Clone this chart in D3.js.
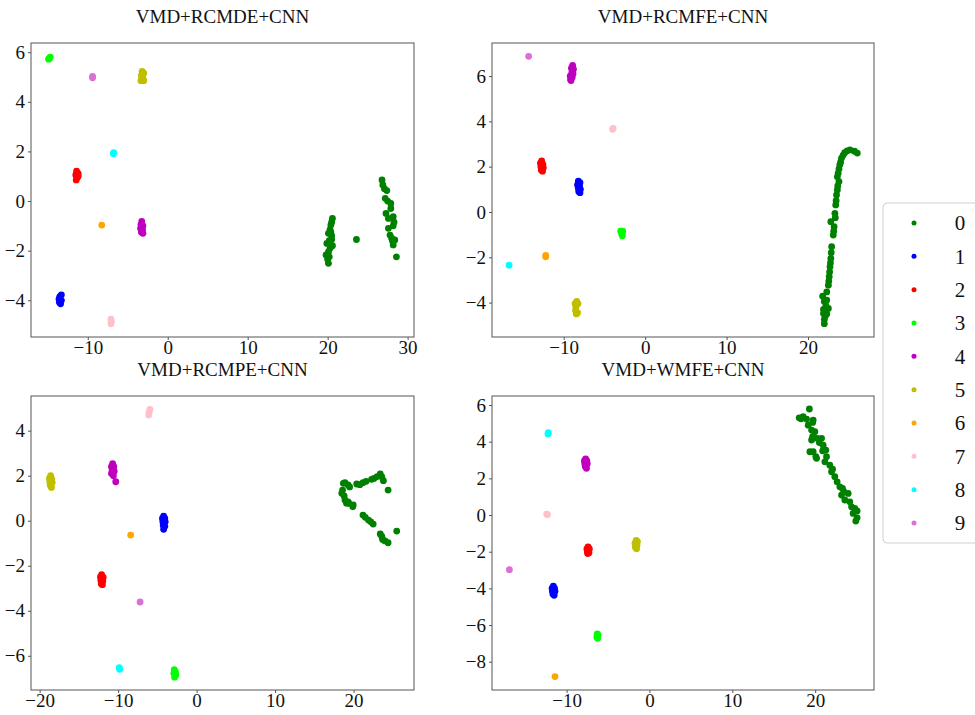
<!DOCTYPE html>
<html>
<head>
<meta charset="utf-8">
<script src="https://cdn.jsdelivr.net/npm/d3@7"></script>
<style>
  body { margin: 0; background: #fff; }
  svg text { font-family: "Liberation Serif", "Times New Roman", serif; fill: #111; }
  .axis path.domain { display: none; }
  .axis line { stroke: #555; }
</style>
</head>
<body>
<svg id="chart" width="975" height="715"></svg>
<script>
// class labels and colours (matplotlib named colours)
var classes = ["0", "1", "2", "3", "4", "5", "6", "7", "8", "9"];
var classColors = ["green", "blue", "red", "lime", "m", "y", "orange", "pink", "cyan", "orchid"];
var colorHex = {
  green: "#008000", blue: "#0000ff", red: "#ff0000", lime: "#00ff00", m: "#bf00bf",
  y: "#bfbf00", orange: "#ffa500", pink: "#ffc0cb", cyan: "#00ffff", orchid: "#da70d6"
};

var titles = ["VMD+RCMDE+CNN", "VMD+RCMFE+CNN", "VMD+RCMPE+CNN", "VMD+WMFE+CNN"];

// tick values per panel
var xTicks = [[-10, 0, 10, 20, 30], [-10, 0, 10, 20], [-20, -10, 0, 10, 20], [-10, 0, 10, 20]];
var yTicks = [[-4, -2, 0, 2, 4, 6], [-4, -2, 0, 2, 4, 6], [-6, -4, -2, 0, 2, 4], [-8, -6, -4, -2, 0, 2, 4, 6]];

// axis limits
var xLimits = [[-17.1, 30.8], [-18.8, 28.1], [-21.1, 27.7], [-19.0, 27.1]];
var yLimits = [[-5.48, 6.37], [-5.52, 7.46], [-7.52, 5.54], [-9.54, 6.49]];

// points: [class, x, y]
var rcmdePoints = [
  [0,20.6,-0.7],[0,20.5,-0.85],[0,20.4,-0.97],[0,20.3,-1.15],[0,20.1,-1.3],[0,20.4,-1.25],[0,20.5,-1.4],[0,20.5,-1.55],
  [0,19.9,-1.71],[0,20.2,-1.6],[0,20.3,-1.9],[0,20.6,-1.8],[0,20.1,-2.05],[0,19.8,-2.17],[0,20.2,-2.25],[0,20.0,-2.35],[0,20.1,-2.51],
  [0,23.6,-1.55],
  [0,26.8,0.85],[0,26.9,0.65],[0,27.1,0.5],[0,27.4,0.42],[0,27.2,0.11],[0,27.5,0.0],[0,27.9,-0.1],[0,27.9,-0.3],
  [0,27.3,-0.5],[0,27.6,-0.7],[0,28.2,-0.63],[0,28.3,-0.85],[0,28.2,-1.0],[0,27.6,-1.1],[0,27.8,-1.37],[0,28.0,-1.5],
  [0,28.4,-1.57],[0,28.2,-1.77],[0,28.1,-1.6],[0,28.6,-2.25],
  [1,-13.3,-3.78],[1,-13.5,-3.85],[1,-13.6,-3.95],[1,-13.55,-4.08],[1,-13.4,-4.14],[1,-13.3,-4.0],[1,-13.5,-3.95],
  [2,-11.4,1.2],[2,-11.2,1.1],[2,-11.5,1.05],[2,-11.3,0.95],[2,-11.45,0.85],[2,-11.2,1.0],
  [3,-14.8,5.75],[3,-14.7,5.8],[3,-14.9,5.72],
  [4,-3.25,-0.82],[4,-3.35,-0.95],[4,-3.1,-1.0],[4,-3.4,-1.1],[4,-3.15,-1.15],[4,-3.3,-1.25],[4,-3.1,-1.3],[4,-3.3,-1.05],
  [5,-3.2,5.23],[5,-3.0,5.15],[5,-3.3,5.05],[5,-3.1,4.95],[5,-3.35,4.85],[5,-3.0,4.85],[5,-3.2,5.1],
  [6,-8.25,-0.97],
  [7,-7.1,-4.76],[7,-7.05,-4.85],[7,-7.1,-4.95],
  [8,-6.8,1.91],[8,-6.75,1.95],
  [9,-9.4,4.97],[9,-9.4,5.02]
];

var rcmfePoints = [
  [0,26.05,2.6],[0,25.7,2.68],[0,25.15,2.74],[0,24.8,2.7],[0,24.5,2.62],[0,24.3,2.5],[0,24.1,2.37],[0,24.0,2.2],
  [0,23.9,2.08],[0,23.8,1.9],[0,23.7,1.71],[0,23.6,1.55],[0,23.8,1.34],[0,23.65,1.15],[0,23.6,0.97],[0,23.5,0.75],
  [0,23.45,0.5],[0,23.4,0.31],[0,23.3,-0.06],[0,23.35,-0.25],[0,22.8,-0.43],[0,23.2,-0.65],[0,23.15,-0.85],[0,23.1,-1.02],
  [0,22.9,-1.53],[0,22.85,-1.8],[0,22.8,-2.05],[0,22.75,-2.25],[0,22.7,-2.42],[0,22.65,-2.65],[0,22.6,-2.86],[0,22.55,-3.05],
  [0,22.5,-3.23],[0,22.3,-3.53],[0,21.8,-3.72],[0,22.3,-3.89],[0,22.0,-3.95],[0,22.2,-4.14],[0,22.5,-4.26],[0,21.9,-4.3],
  [0,21.9,-4.48],[0,22.3,-4.5],[0,22.1,-4.6],[0,22.0,-4.75],[0,22.0,-4.93],
  [1,-8.2,1.36],[1,-8.0,1.3],[1,-8.3,1.2],[1,-8.05,1.15],[1,-8.2,1.05],[1,-7.95,1.0],[1,-8.15,0.9],[1,-8.0,0.85],
  [2,-12.7,2.25],[2,-12.85,2.15],[2,-12.55,2.1],[2,-12.8,2.0],[2,-12.5,1.95],[2,-12.75,1.85],[2,-12.6,1.8],
  [3,-3.0,-0.85],[3,-2.75,-0.85],[3,-2.9,-0.95],[3,-2.8,-1.05],
  [4,-8.9,6.47],[4,-9.05,6.35],[4,-8.8,6.3],[4,-9.0,6.15],[4,-8.85,6.1],[4,-9.2,6.0],[4,-8.95,5.95],[4,-9.15,5.85],[4,-9.1,5.8],
  [5,-8.4,-3.95],[5,-8.6,-4.05],[5,-8.25,-4.05],[5,-8.5,-4.2],[5,-8.55,-4.35],[5,-8.3,-4.45],[5,-8.45,-4.5],
  [6,-12.2,-1.98],[6,-12.2,-1.92],
  [7,-3.93,3.69],[7,-4.0,3.65],
  [8,-16.7,-2.35],
  [9,-14.3,6.87]
];

var rcmpePoints = [
  [0,18.9,1.69],[0,18.7,1.66],[0,19.3,1.59],[0,19.5,1.5],[0,18.6,1.36],[0,18.5,1.22],[0,18.8,1.1],[0,18.9,0.92],
  [0,19.3,0.84],[0,19.4,0.77],[0,19.1,0.78],[0,19.95,0.7],[0,19.9,0.62],[0,20.4,1.63],[0,20.8,1.6],[0,21.2,1.69],
  [0,21.6,1.75],[0,22.3,1.84],[0,22.6,1.88],[0,23.0,1.96],[0,23.4,2.08],[0,23.6,1.95],[0,23.8,1.78],[0,24.4,1.36],
  [0,21.2,0.25],[0,21.5,0.15],[0,21.9,0.03],[0,22.2,-0.05],[0,22.5,-0.15],[0,25.5,-0.46],
  [0,23.4,-0.59],[0,23.6,-0.7],[0,23.7,-0.83],[0,24.0,-0.9],[0,24.4,-0.98],
  [1,-4.2,0.2],[1,-4.35,0.1],[1,-4.05,0.1],[1,-4.3,-0.05],[1,-4.0,-0.05],[1,-4.25,-0.2],[1,-4.05,-0.25],[1,-4.2,-0.38],
  [2,-12.1,-2.4],[2,-12.25,-2.5],[2,-11.9,-2.52],[2,-12.2,-2.65],[2,-11.95,-2.68],[2,-12.15,-2.8],[2,-12.0,-2.84],
  [3,-2.85,-6.62],[3,-2.7,-6.7],[3,-2.9,-6.78],[3,-2.65,-6.85],[3,-2.8,-6.95],
  [4,-10.7,2.53],[4,-10.85,2.4],[4,-10.55,2.4],[4,-10.75,2.25],[4,-10.5,2.2],[4,-10.85,2.1],[4,-10.6,2.0],[4,-10.3,1.73],
  [5,-18.6,2.0],[5,-18.75,1.88],[5,-18.45,1.85],[5,-18.7,1.72],[5,-18.4,1.7],[5,-18.65,1.58],[5,-18.5,1.48],
  [6,-8.4,-0.64],
  [7,-5.95,4.94],[7,-6.05,4.82],[7,-6.1,4.7],
  [8,-9.86,-6.53],[8,-9.8,-6.6],
  [9,-7.2,-3.61]
];

var wmfePoints = [
  [0,19.3,5.78],[0,18.07,5.3],[0,18.55,5.36],[0,18.96,5.23],[0,18.3,5.25],[0,19.76,5.18],[0,19.7,5.05],[0,19.16,4.9],
  [0,19.57,4.63],[0,19.96,4.54],[0,19.69,4.27],[0,20.24,4.18],[0,19.57,4.09],[0,20.77,4.18],[0,20.5,3.95],[0,19.76,3.45],
  [0,19.36,3.45],[0,20.08,3.18],[0,20.17,3.09],[0,20.96,3.81],[0,21.29,3.54],[0,21.37,3.18],[0,21.17,2.9],[0,21.77,2.72],
  [0,21.98,2.36],[0,22.37,2.09],[0,22.65,1.81],[0,22.98,1.54],[0,23.46,1.27],[0,23.18,1.09],[0,23.98,1.18],[0,23.58,0.82],
  [0,24.18,0.72],[0,24.39,0.45],[0,24.78,0.36],[0,24.58,0.09],[0,25.06,-0.15],[0,25.06,0.22],[0,24.9,-0.33],[0,23.3,1.45],
  [0,22.1,2.5],[0,20.9,3.5],
  [1,-11.6,-3.88],[1,-11.75,-4.0],[1,-11.45,-4.0],[1,-11.7,-4.15],[1,-11.4,-4.15],[1,-11.65,-4.3],[1,-11.5,-4.38],
  [2,-7.4,-1.74],[2,-7.55,-1.85],[2,-7.25,-1.85],[2,-7.5,-2.0],[2,-7.3,-2.05],[2,-7.45,-2.1],
  [3,-6.3,-6.48],[3,-6.2,-6.55],[3,-6.35,-6.65],[3,-6.25,-6.72],
  [4,-7.7,3.06],[4,-7.85,2.95],[4,-7.55,2.95],[4,-7.8,2.8],[4,-7.5,2.8],[4,-7.75,2.65],[4,-7.6,2.55],
  [5,-1.6,-1.38],[5,-1.45,-1.45],[5,-1.75,-1.55],[5,-1.5,-1.65],[5,-1.7,-1.75],[5,-1.55,-1.84],
  [6,-11.4,-8.81],
  [7,-12.3,0.02],[7,-12.4,0.05],
  [8,-12.2,4.49],[8,-12.25,4.42],
  [9,-16.9,-2.98]
];

var panelPoints = [rcmdePoints, rcmfePoints, rcmpePoints, wmfePoints];

// panel frames in page pixels
var boxes = [
  { left: 31, top: 43, width: 383, height: 294 },
  { left: 492, top: 43, width: 382, height: 294 },
  { left: 31, top: 396, width: 383, height: 294 },
  { left: 492, top: 396, width: 382, height: 294 }
];

var svg = d3.select("#chart");

boxes.forEach(function (b, i) {
  var g = svg.append("g").attr("transform", "translate(" + b.left + "," + b.top + ")");

  var x = d3.scaleLinear().domain(xLimits[i]).range([0, b.width]);
  var y = d3.scaleLinear().domain(yLimits[i]).range([b.height, 0]);

  // title
  g.append("text")
    .attr("x", b.width / 2)
    .attr("y", -20)
    .attr("text-anchor", "middle")
    .style("font-size", "19px")
    .text(titles[i]);

  // axes
  g.append("g")
    .attr("class", "axis")
    .attr("transform", "translate(0," + b.height + ")")
    .call(d3.axisBottom(x).tickValues(xTicks[i]).tickSize(3).tickPadding(1).tickFormat(d3.format("d")))
    .selectAll("text").style("font-size", "19px").style("font-family", "Liberation Serif");

  g.append("g")
    .attr("class", "axis")
    .call(d3.axisLeft(y).tickValues(yTicks[i]).tickSize(3).tickPadding(3).tickFormat(d3.format("d")))
    .selectAll("text").style("font-size", "19px").style("font-family", "Liberation Serif");

  // points
  g.append("g").selectAll("circle")
    .data(panelPoints[i])
    .enter().append("circle")
    .attr("cx", function (d) { return x(d[1]); })
    .attr("cy", function (d) { return y(d[2]); })
    .attr("r", 3.4)
    .attr("fill", function (d) { return colorHex[classColors[d[0]]]; });

  // frame
  g.append("rect")
    .attr("width", b.width)
    .attr("height", b.height)
    .attr("fill", "none")
    .attr("stroke", "#555")
    .attr("stroke-width", 1);
});

// legend
var legend = svg.append("g").attr("transform", "translate(883,203)");

legend.append("rect")
  .attr("width", 110)
  .attr("height", 340)
  .attr("rx", 4)
  .attr("fill", "#fff")
  .attr("stroke", "#d0d0d0");

var legendY = d3.scalePoint().domain(classes).range([20, 320]);

legend.selectAll("circle")
  .data(classes)
  .enter().append("circle")
  .attr("cx", 31)
  .attr("cy", function (d) { return legendY(d); })
  .attr("r", 2.5)
  .attr("fill", function (d, i) { return colorHex[classColors[i]]; });

legend.selectAll("text.lbl")
  .data(classes)
  .enter().append("text")
  .attr("class", "lbl")
  .attr("x", 77)
  .attr("y", function (d) { return legendY(d); })
  .attr("dy", "0.35em")
  .attr("text-anchor", "middle")
  .style("font-size", "21px")
  .text(function (d) { return d; });
</script>
</body>
</html>
